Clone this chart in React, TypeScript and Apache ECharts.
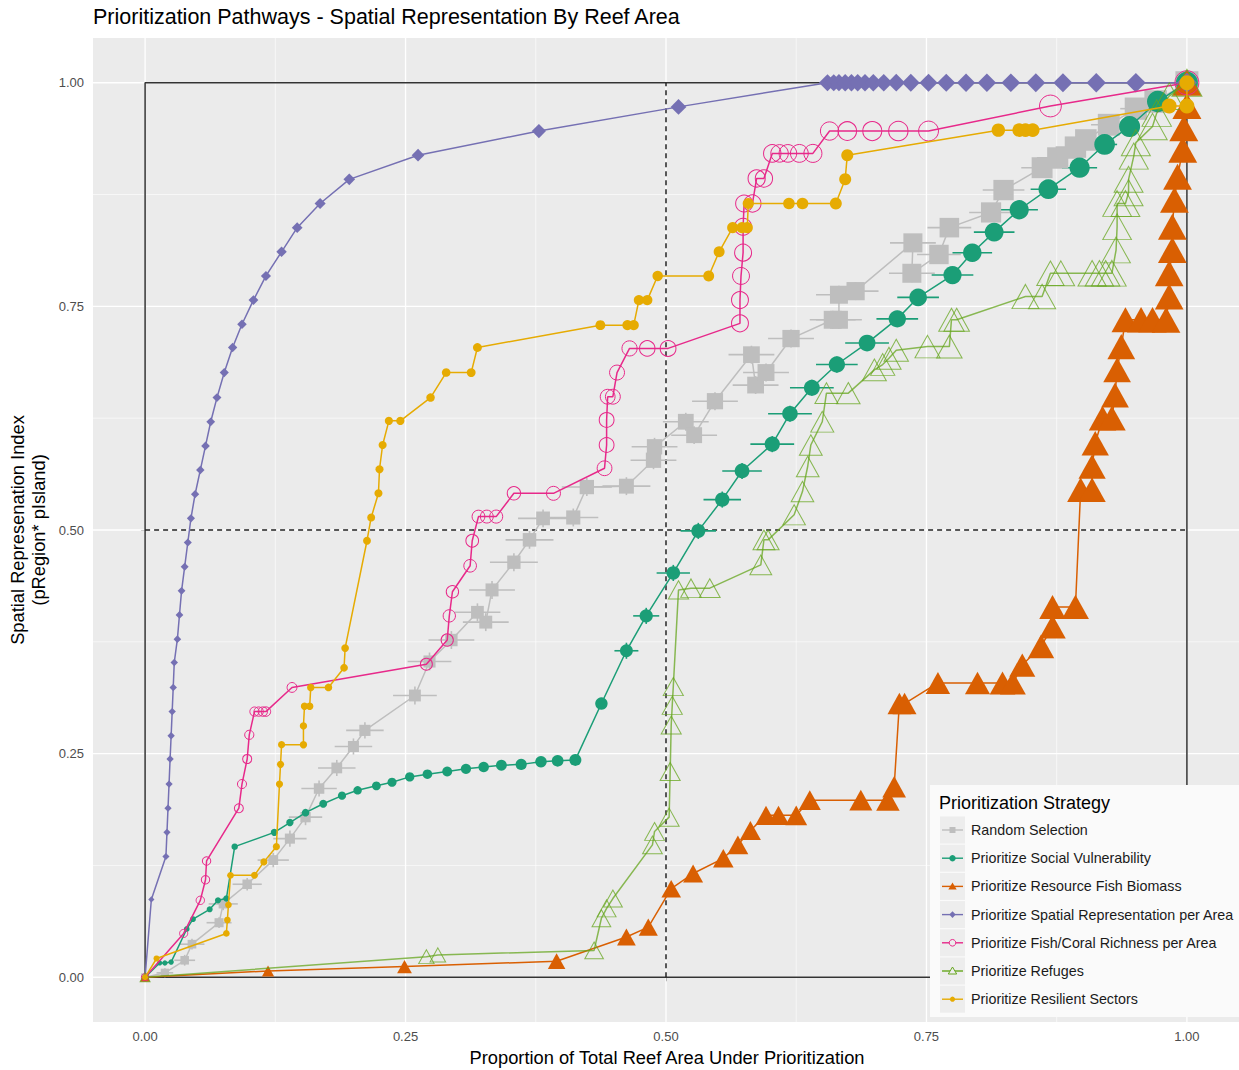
import React, { useEffect, useRef } from 'react';
import * as echarts from 'echarts';

const FONT = '"Liberation Sans", Arial, Helvetica, sans-serif';

// ---------- data ----------
const majorTicks = [0, 0.25, 0.5, 0.75, 1];
const minorTicks = [0.125, 0.375, 0.625, 0.875];

const randomSelection: number[][] = [
  [0, 0], [0.019, 0.005], [0.038, 0.019], [0.045, 0.037], [0.071, 0.061], [0.075, 0.082], [0.098, 0.104],
  [0.123, 0.131], [0.139, 0.155], [0.154, 0.179], [0.167, 0.211], [0.184, 0.234], [0.2, 0.258], [0.211, 0.276],
  [0.259, 0.315], [0.273, 0.353], [0.294, 0.377], [0.319, 0.408], [0.327, 0.397], [0.333, 0.433], [0.354, 0.464],
  [0.369, 0.489], [0.382, 0.513], [0.411, 0.514], [0.424, 0.548], [0.462, 0.549], [0.488, 0.578], [0.489, 0.593],
  [0.519, 0.621], [0.527, 0.606], [0.547, 0.644], [0.582, 0.696], [0.586, 0.662], [0.596, 0.676], [0.62, 0.714],
  [0.66, 0.735], [0.666, 0.735], [0.666, 0.763], [0.682, 0.767], [0.737, 0.821], [0.736, 0.787], [0.762, 0.808],
  [0.772, 0.838], [0.812, 0.855], [0.824, 0.88], [0.861, 0.905], [0.876, 0.916], [0.893, 0.928], [0.903, 0.936],
  [0.925, 0.953], [0.951, 0.971], [0.97, 0.979], [1, 1],
];
const randomErrX = [
  0, 0.008, 0.01, 0.012, 0.012, 0.014, 0.014, 0.015, 0.016, 0.016, 0.017, 0.018, 0.018, 0.018, 0.021, 0.021,
  0.022, 0.022, 0.022, 0.022, 0.023, 0.023, 0.024, 0.024, 0.024, 0.023, 0.022, 0.022, 0.022, 0.022, 0.022, 0.022,
  0.022, 0.022, 0.022, 0.022, 0.022, 0.022, 0.022, 0.022, 0.022, 0.021, 0.021, 0.021, 0.02, 0.02, 0.02, 0.019,
  0.018, 0.017, 0.015, 0.012, 0,
];
const randomErrY = [
  0, 0.005, 0.006, 0.006, 0.006, 0.007, 0.007, 0.008, 0.009, 0.009, 0.009, 0.009, 0.009, 0.009, 0.01, 0.01,
  0.01, 0.01, 0.01, 0.01, 0.01, 0.01, 0.01, 0.01, 0.01, 0.01, 0.01, 0.01, 0.01, 0.01, 0.01, 0.01,
  0.01, 0.01, 0.01, 0.01, 0.01, 0.01, 0.01, 0.01, 0.01, 0.01, 0.01, 0.01, 0.01, 0.01, 0.01, 0.01,
  0.01, 0.009, 0.008, 0.006, 0,
];

const socialVulnerability: number[][] = [
  [0, 0], [0.014, 0.016], [0.019, 0.016], [0.025, 0.017], [0.04, 0.054], [0.046, 0.065], [0.062, 0.076],
  [0.07, 0.086], [0.078, 0.088], [0.086, 0.146], [0.124, 0.162], [0.139, 0.173], [0.154, 0.184], [0.171, 0.194],
  [0.189, 0.203], [0.204, 0.209], [0.222, 0.214], [0.237, 0.218], [0.254, 0.224], [0.271, 0.227], [0.29, 0.23],
  [0.308, 0.233], [0.325, 0.235], [0.342, 0.237], [0.361, 0.238], [0.38, 0.241], [0.396, 0.242], [0.413, 0.243],
  [0.438, 0.306], [0.462, 0.365], [0.481, 0.404], [0.507, 0.452], [0.531, 0.499], [0.554, 0.534], [0.573, 0.566],
  [0.602, 0.596], [0.619, 0.63], [0.64, 0.659], [0.664, 0.685], [0.693, 0.709], [0.722, 0.736], [0.742, 0.76],
  [0.775, 0.785], [0.794, 0.81], [0.815, 0.833], [0.839, 0.858], [0.867, 0.881], [0.897, 0.905], [0.921, 0.931],
  [0.945, 0.951], [0.972, 0.979], [1, 1],
];
const socialErrX = [
  0, 0, 0, 0, 0, 0, 0, 0, 0, 0, 0, 0, 0, 0, 0, 0, 0, 0, 0, 0, 0, 0, 0, 0, 0, 0, 0, 0,
  0.005, 0.0115, 0.0125, 0.016, 0.017, 0.018, 0.019, 0.021, 0.021, 0.021, 0.02, 0.021, 0.02, 0.02, 0.02,
  0.019, 0.0195, 0.018, 0.017, 0.0168, 0.012, 0.01, 0.005, 0,
];
const socialErrY = [
  0, 0, 0, 0, 0, 0, 0, 0, 0, 0, 0, 0, 0, 0, 0, 0, 0, 0, 0, 0, 0, 0, 0, 0, 0, 0, 0, 0,
  0, 0.009, 0.009, 0.009, 0.009, 0.009, 0.009, 0.009, 0.009, 0.009, 0.009, 0.009, 0.009, 0.009, 0.009,
  0.009, 0.009, 0.009, 0.009, 0.009, 0.008, 0.007, 0, 0,
];

const fishBiomass: number[][] = [
  [0, 0], [0.118, 0.007], [0.249, 0.012], [0.395, 0.018], [0.462, 0.045], [0.483, 0.056], [0.505, 0.099],
  [0.526, 0.116], [0.555, 0.133], [0.569, 0.148], [0.581, 0.164], [0.596, 0.181], [0.608, 0.181], [0.625, 0.181],
  [0.638, 0.198], [0.687, 0.198], [0.713, 0.198], [0.719, 0.213], [0.724, 0.306], [0.729, 0.306], [0.761, 0.329],
  [0.799, 0.329], [0.823, 0.329], [0.833, 0.329], [0.842, 0.349], [0.86, 0.37], [0.871, 0.392], [0.871, 0.414],
  [0.893, 0.414], [0.898, 0.545], [0.909, 0.545], [0.909, 0.571], [0.912, 0.597], [0.919, 0.625], [0.928, 0.625],
  [0.931, 0.651], [0.933, 0.679], [0.937, 0.705], [0.941, 0.735], [0.956, 0.735], [0.967, 0.735], [0.98, 0.735],
  [0.983, 0.761], [0.983, 0.787], [0.986, 0.813], [0.986, 0.839], [0.988, 0.869], [0.991, 0.895], [0.996, 0.925],
  [0.997, 0.949], [1, 0.974], [1, 1],
];

const spatialRepresentation: number[][] = [
  [0, 0], [0.006, 0.087], [0.02, 0.135], [0.021, 0.162], [0.022, 0.189], [0.023, 0.216], [0.024, 0.244],
  [0.025, 0.27], [0.026, 0.297], [0.027, 0.324], [0.028, 0.352], [0.031, 0.378], [0.033, 0.405], [0.035, 0.432],
  [0.038, 0.459], [0.041, 0.486], [0.044, 0.513], [0.048, 0.54], [0.053, 0.567], [0.058, 0.594], [0.063, 0.621],
  [0.069, 0.648], [0.076, 0.676], [0.084, 0.704], [0.093, 0.73], [0.104, 0.757], [0.116, 0.784], [0.131, 0.811],
  [0.146, 0.838], [0.168, 0.865], [0.196, 0.892], [0.262, 0.919], [0.378, 0.946], [0.512, 0.973], [0.655, 1],
  [0.661, 1], [0.666, 1], [0.672, 1], [0.678, 1], [0.684, 1], [0.691, 1], [0.699, 1], [0.709, 1], [0.721, 1],
  [0.735, 1], [0.752, 1], [0.769, 1], [0.788, 1], [0.808, 1], [0.831, 1], [0.855, 1], [0.881, 1], [0.913, 1],
  [0.951, 1], [1, 1],
];

const richness: number[][] = [
  [0, 0], [0.037, 0.049], [0.053, 0.086], [0.058, 0.109], [0.059, 0.13], [0.09, 0.189], [0.093, 0.216],
  [0.098, 0.244], [0.1, 0.271], [0.105, 0.297], [0.109, 0.297], [0.113, 0.297], [0.116, 0.297], [0.141, 0.324],
  [0.27, 0.35], [0.29, 0.377], [0.292, 0.404], [0.295, 0.431], [0.312, 0.46], [0.314, 0.488], [0.32, 0.515],
  [0.328, 0.515], [0.337, 0.515], [0.354, 0.541], [0.392, 0.541], [0.441, 0.569], [0.443, 0.595], [0.443, 0.623],
  [0.444, 0.649], [0.449, 0.649], [0.453, 0.676], [0.465, 0.703], [0.482, 0.703], [0.502, 0.703], [0.571, 0.731],
  [0.571, 0.757], [0.572, 0.784], [0.574, 0.81], [0.574, 0.839], [0.575, 0.865], [0.583, 0.865], [0.587, 0.893],
  [0.594, 0.893], [0.602, 0.921], [0.609, 0.921], [0.617, 0.921], [0.628, 0.921], [0.641, 0.921], [0.657, 0.946],
  [0.674, 0.946], [0.698, 0.946], [0.723, 0.946], [0.752, 0.946], [0.869, 0.974], [1, 1],
];

const refuges: number[][] = [
  [0, 0], [0.27, 0.023], [0.281, 0.025], [0.431, 0.03], [0.438, 0.066], [0.443, 0.077], [0.449, 0.088],
  [0.487, 0.148], [0.489, 0.163], [0.503, 0.179], [0.504, 0.23], [0.505, 0.282], [0.506, 0.304], [0.507, 0.325],
  [0.512, 0.433], [0.524, 0.435], [0.542, 0.435], [0.591, 0.461], [0.594, 0.489], [0.598, 0.489], [0.623, 0.517],
  [0.631, 0.543], [0.636, 0.571], [0.639, 0.595], [0.65, 0.621], [0.654, 0.653], [0.675, 0.653], [0.7, 0.679],
  [0.708, 0.685], [0.714, 0.692], [0.721, 0.701], [0.751, 0.705], [0.772, 0.705], [0.774, 0.735], [0.779, 0.735],
  [0.845, 0.761], [0.861, 0.761], [0.869, 0.787], [0.879, 0.787], [0.909, 0.787], [0.916, 0.787], [0.922, 0.787],
  [0.928, 0.787], [0.932, 0.813], [0.933, 0.839], [0.933, 0.865], [0.941, 0.865], [0.944, 0.877], [0.944, 0.892],
  [0.949, 0.918], [0.951, 0.933], [0.967, 0.951], [0.971, 0.966], [0.983, 0.985], [1, 1],
];

const resilientSectors: number[][] = [
  [0, 0], [0.011, 0.021], [0.078, 0.049], [0.079, 0.064], [0.08, 0.081], [0.082, 0.114], [0.105, 0.114],
  [0.114, 0.129], [0.126, 0.146], [0.129, 0.216], [0.13, 0.238], [0.131, 0.26], [0.152, 0.26], [0.152, 0.281],
  [0.153, 0.303], [0.158, 0.303], [0.159, 0.324], [0.176, 0.324], [0.191, 0.346], [0.192, 0.368], [0.213, 0.488],
  [0.217, 0.514], [0.224, 0.541], [0.225, 0.568], [0.228, 0.595], [0.234, 0.622], [0.245, 0.622], [0.274, 0.648],
  [0.289, 0.676], [0.313, 0.676], [0.319, 0.704], [0.437, 0.729], [0.463, 0.729], [0.469, 0.729], [0.474, 0.757],
  [0.482, 0.757], [0.492, 0.784], [0.541, 0.784], [0.551, 0.811], [0.564, 0.838], [0.573, 0.838], [0.578, 0.838],
  [0.579, 0.865], [0.618, 0.865], [0.631, 0.865], [0.663, 0.865], [0.672, 0.892], [0.674, 0.919], [0.819, 0.947],
  [0.839, 0.947], [0.845, 0.947], [0.852, 0.947], [0.983, 0.974], [1, 0.974], [1, 1],
];

const TITLE = 'Prioritization Pathways - Spatial Representation By Reef Area';
const X_TITLE = 'Proportion of Total Reef Area Under Prioritization';
const Y_TITLE = 'Spatial Represenation Index\n(pRegion* pIsland)';
const LEGEND_TITLE = 'Prioritization Strategy';

type Cfg = {
  name: string; data: number[][]; color: string; symbol: string;
  size: [number, number]; hollow?: boolean; sqrt?: boolean; opacity?: number;
};

const SERIES: Cfg[] = [
  { name: 'Random Selection', data: randomSelection, color: '#BEBEBE', symbol: 'rect', size: [8, 23] },
  { name: 'Prioritize Social Vulnerability', data: socialVulnerability, color: '#1B9E77', symbol: 'circle', size: [5, 22] },
  { name: 'Prioritize Resource Fish Biomass', data: fishBiomass, color: '#D95F02', symbol: 'triangle', size: [10, 29] },
  { name: 'Prioritize Spatial Representation per Area', data: spatialRepresentation, color: '#7570B3', symbol: 'diamond', size: [5, 20], sqrt: true },
  { name: 'Prioritize Fish/Coral Richness per Area', data: richness, color: '#E7298A', symbol: 'circle', size: [7.5, 24], hollow: true },
  { name: 'Prioritize Refuges', data: refuges, color: '#66A61E', symbol: 'triangle', size: [10, 30], hollow: true, opacity: 0.75 },
  { name: 'Prioritize Resilient Sectors', data: resilientSectors, color: '#E6AB02', symbol: 'circle', size: [6, 15] },
];

function errorSeries(data: number[][], ex: number[], ey: number[], color: string, z: number) {
  return {
    type: 'custom',
    silent: true,
    z,
    encode: { x: 0, y: 1 },
    data: data.map((d, i) => [d[0], d[1], ex[i] || 0, ey[i] || 0]),
    renderItem: (_p: any, api: any) => {
      const x = api.value(0), y = api.value(1), e = api.value(2), f = api.value(3);
      const children: any[] = [];
      if (e > 0) {
        const a = api.coord([x - e, y]), b = api.coord([x + e, y]);
        children.push({ type: 'line', shape: { x1: a[0], y1: a[1], x2: b[0], y2: b[1] }, style: { stroke: color, lineWidth: 1.6 } });
      }
      if (f > 0) {
        const a = api.coord([x, y - f]), b = api.coord([x, y + f]);
        children.push({ type: 'line', shape: { x1: a[0], y1: a[1], x2: b[0], y2: b[1] }, style: { stroke: color, lineWidth: 1.6 } });
      }
      return { type: 'group', children };
    },
  };
}

function buildLegend(): any[] {
  const els: any[] = [];
  const LX = 930, LY = 785, LW = 309, LH = 232;
  els.push({ type: 'rect', shape: { x: LX, y: LY, width: LW, height: LH }, style: { fill: '#FAFAFA' }, z: 100 });
  els.push({
    type: 'text', x: 939, y: 803, z: 101,
    style: { text: LEGEND_TITLE, fontSize: 18, fontFamily: FONT, fill: '#000', align: 'left', verticalAlign: 'middle' },
  });
  SERIES.forEach((s, i) => {
    const cy = 830 + i * 28.2;
    const cx = 952.5;
    els.push({ type: 'rect', shape: { x: 940, y: cy - 13.5, width: 25, height: 27 }, style: { fill: '#EDEDED' }, z: 101 });
    els.push({ type: 'line', shape: { x1: 942, y1: cy, x2: 963, y2: cy }, style: { stroke: s.color, lineWidth: 1.4 }, z: 102 });
    let sym: any;
    if (s.symbol === 'rect') {
      sym = { type: 'rect', shape: { x: cx - 3, y: cy - 3, width: 6, height: 6 }, style: { fill: s.color } };
    } else if (s.symbol === 'circle') {
      const r = s.hollow ? 3.3 : s.size[1] < 16 ? 2.6 : 3.2;
      sym = {
        type: 'circle', shape: { cx, cy, r },
        style: s.hollow ? { fill: '#EDEDED', stroke: s.color, lineWidth: 1 } : { fill: s.color },
      };
    } else if (s.symbol === 'triangle') {
      sym = {
        type: 'polygon', shape: { points: [[cx, cy - 4], [cx + 4.2, cy + 3], [cx - 4.2, cy + 3]] },
        style: s.hollow ? { fill: '#EDEDED', stroke: s.color, lineWidth: 1 } : { fill: s.color },
      };
    } else {
      sym = {
        type: 'polygon', shape: { points: [[cx, cy - 3.4], [cx + 3.2, cy], [cx, cy + 3.4], [cx - 3.2, cy]] },
        style: { fill: s.color },
      };
    }
    sym.z = 103;
    els.push(sym);
    els.push({
      type: 'text', x: 971, y: cy, z: 103,
      style: { text: s.name, fontSize: 14.3, fontFamily: FONT, fill: '#1a1a1a', align: 'left', verticalAlign: 'middle' },
    });
  });
  return els;
}

export default function App() {
  const ref = useRef<HTMLDivElement>(null);
  useEffect(() => {
    if (!ref.current) return;
    const chart = echarts.init(ref.current, undefined, { renderer: 'svg' });

    const gridData: number[][] = [
      ...majorTicks.map((v) => [v, 0, 1]),
      ...minorTicks.map((v) => [v, 0, 0]),
      ...majorTicks.map((v) => [v, 1, 1]),
      ...minorTicks.map((v) => [v, 1, 0]),
    ];

    const dataSeries = SERIES.map((s, i) => ({
      type: 'line',
      name: s.name,
      data: s.data,
      z: 10 + i,
      color: s.color,
      showSymbol: true,
      showAllSymbol: true,
      symbol: s.symbol,
      symbolSize: (v: number[]) => {
        const t = s.sqrt ? Math.sqrt(Math.max(v[0], 0)) : v[0];
        const sz = s.size[0] + (s.size[1] - s.size[0]) * t;
        return s.symbol === 'triangle' ? [sz, sz * 0.9] : sz;
      },
      lineStyle: { color: s.color, width: 1.5, opacity: s.opacity ?? 1 },
      itemStyle: s.hollow
        ? { color: 'rgba(0,0,0,0)', borderColor: s.color, borderWidth: 1, opacity: s.opacity ?? 1 }
        : { color: s.color, borderWidth: 0 },
      emphasis: { disabled: true },
      silent: true,
    }));

    const option: any = {
      animation: false,
      backgroundColor: '#FFFFFF',
      grid: { left: 93, right: 0, top: 38, bottom: 48, show: true, backgroundColor: '#EBEBEB', borderWidth: 0 },
      xAxis: {
        type: 'value', min: -0.05, max: 1.05,
        splitLine: { show: false },
        axisLine: { show: false },
        axisTick: { show: true, customValues: majorTicks, length: 4, lineStyle: { color: '#333333', width: 1 } },
        axisLabel: {
          customValues: majorTicks, formatter: (v: number) => v.toFixed(2),
          color: '#4D4D4D', fontSize: 13, fontFamily: FONT, margin: 8,
        },
      },
      yAxis: {
        type: 'value', min: -0.05, max: 1.05,
        splitLine: { show: false },
        axisLine: { show: false },
        axisTick: { show: true, customValues: majorTicks, length: 4, lineStyle: { color: '#333333', width: 1 } },
        axisLabel: {
          customValues: majorTicks, formatter: (v: number) => v.toFixed(2),
          color: '#4D4D4D', fontSize: 13, fontFamily: FONT, margin: 9,
        },
      },
      graphic: [
        {
          type: 'text', x: 93, y: 17,
          style: { text: TITLE, fontSize: 21.5, fontFamily: FONT, fill: '#000', align: 'left', verticalAlign: 'middle' },
        },
        {
          type: 'text', x: 667, y: 1057,
          style: { text: X_TITLE, fontSize: 18.3, fontFamily: FONT, fill: '#000', align: 'center', verticalAlign: 'middle' },
        },
        {
          type: 'text', x: 28, y: 530, rotation: Math.PI / 2,
          style: {
            text: Y_TITLE, fontSize: 18.3, lineHeight: 21, fontFamily: FONT, fill: '#000',
            align: 'center', verticalAlign: 'middle',
          },
        },
        ...buildLegend(),
      ],
      series: [
        {
          type: 'custom', silent: true, z: 1, encode: { x: 0, y: 1 },
          data: gridData,
          renderItem: (params: any, api: any) => {
            const cs = params.coordSys;
            const v = api.value(0), dir = api.value(1), major = api.value(2);
            const lw = major ? 1.3 : 0.6;
            if (dir === 0) {
              const p = api.coord([v, 0]);
              return { type: 'line', shape: { x1: p[0], y1: cs.y, x2: p[0], y2: cs.y + cs.height }, style: { stroke: '#FFFFFF', lineWidth: lw } };
            }
            const p = api.coord([0, v]);
            return { type: 'line', shape: { x1: cs.x, y1: p[1], x2: cs.x + cs.width, y2: p[1] }, style: { stroke: '#FFFFFF', lineWidth: lw } };
          },
        },
        {
          type: 'line', z: 3, silent: true, symbol: 'none',
          data: [[0, 0], [0, 1], [1, 1], [1, 0], [0, 0]],
          lineStyle: { color: '#333333', width: 1.5 },
        },
        {
          type: 'line', z: 3, silent: true, symbol: 'none',
          data: [[0.5, 0], [0.5, 1]],
          lineStyle: { color: '#222222', width: 1.5, type: [5, 4] },
        },
        {
          type: 'line', z: 3, silent: true, symbol: 'none',
          data: [[0, 0.5], [1, 0.5]],
          lineStyle: { color: '#222222', width: 1.5, type: [5, 4] },
        },
        errorSeries(randomSelection, randomErrX, randomErrY, '#BEBEBE', 5),
        errorSeries(socialVulnerability, socialErrX, socialErrY, '#1B9E77', 6),
        ...dataSeries,
      ],
    };
    chart.setOption(option);
    return () => chart.dispose();
  }, []);

  return (
    <div
      ref={ref}
      style={{ position: 'absolute', left: 0, top: 0, width: 1239, height: 1070, background: '#fff' }}
    />
  );
}
